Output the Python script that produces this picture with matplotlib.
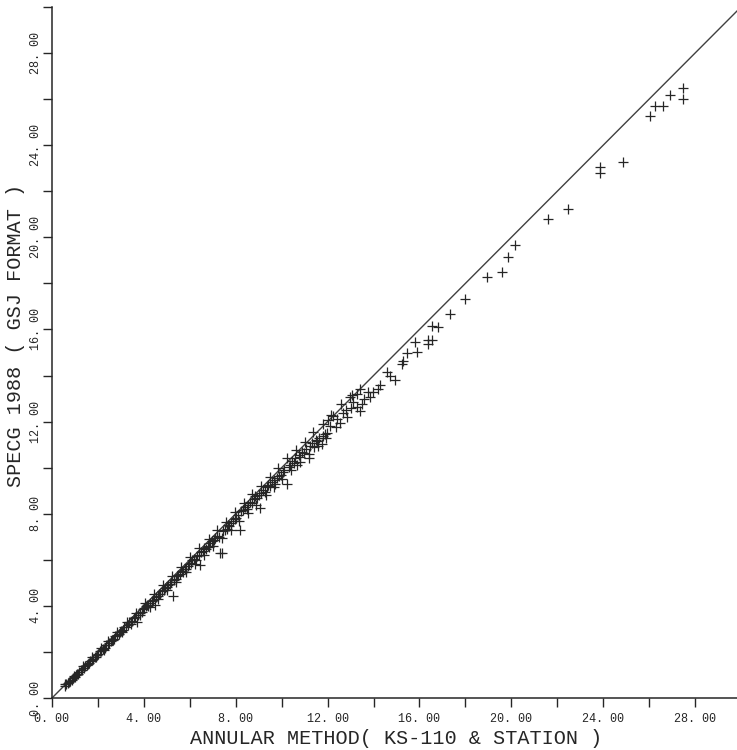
import matplotlib
matplotlib.use("Agg")
import matplotlib.pyplot as plt

# annular method (x) vs SPECG 1988 (y)
annular = [
    0.55, 0.62, 0.70, 0.78, 0.85, 0.90, 0.98, 1.05, 1.10, 1.18, 1.25, 1.30, 1.38, 1.45, 1.52, 1.60, 1.66, 1.72, 1.80, 1.88, 1.95,
    2.02, 2.08, 2.15, 2.22, 2.30, 2.35, 2.42, 2.50, 2.55, 2.62, 2.70, 2.76, 2.82, 2.90, 2.95, 3.02, 3.10, 3.15, 3.22, 3.30,
    3.36, 3.42, 3.50, 3.56, 3.62, 3.69, 3.75, 3.82, 3.90, 3.96,
    4.02, 4.08, 4.15, 4.20, 4.28, 4.35, 4.40, 4.49, 4.52, 4.60, 4.66, 4.72, 4.80, 4.86, 4.92, 5.00, 5.05, 5.12, 5.20, 5.28,
    5.30, 5.38, 5.45, 5.50, 5.58, 5.65, 5.70, 5.78, 5.85, 5.92, 5.98,
    6.05, 6.10, 6.18, 6.25, 6.30, 6.38, 6.45, 6.50, 6.58, 6.62, 6.70, 6.78, 6.85, 6.90, 6.98, 7.05, 7.10, 7.18, 7.25, 7.32,
    7.39, 7.45, 7.52, 7.60, 7.66, 7.72, 7.80, 7.88, 7.95,
    8.02, 8.10, 8.19, 8.25, 8.32, 8.40, 8.48, 8.55, 8.62, 8.70, 8.78, 8.85, 8.92, 9.00, 9.06, 9.12, 9.20, 9.28, 9.35, 9.42,
    9.50, 9.58, 9.65, 9.72, 9.80, 9.88, 9.95,
    10.05, 10.12, 10.22, 10.30, 10.38, 10.45, 10.52, 10.60, 10.68, 10.75, 10.82, 10.90, 10.98, 11.05, 11.17, 11.25, 11.32,
    11.40, 11.48, 11.55, 11.62, 11.75, 11.82, 11.90, 11.98,
    12.00, 12.11, 12.25, 12.40, 12.54, 12.69, 12.80, 12.98, 13.00, 13.12, 13.27, 13.41, 13.41, 13.49, 13.85, 13.99, 14.21,
    14.29, 14.58, 14.72, 14.94, 15.23, 15.30, 15.45, 15.81, 15.88, 16.35, 16.39, 16.54, 16.54, 16.82, 17.33, 17.99, 18.95,
    19.60, 19.86, 20.17, 21.60, 22.47, 23.87, 23.87, 24.87, 26.05, 26.26, 26.60, 26.92, 27.48, 27.48,
    # second pass through the dense band
    0.58, 0.74, 0.95, 1.15, 1.35, 1.55, 1.75, 1.92, 2.12, 2.28, 2.45, 2.66, 2.85, 3.05, 3.25, 3.45, 3.65, 3.85,
    4.05, 4.25, 4.45, 4.62, 4.85, 5.02, 5.22, 5.42, 5.62, 5.82, 6.02, 6.22, 6.42, 6.60, 6.82, 7.00, 7.20, 7.40,
    7.58, 7.78, 7.98, 8.15, 8.35, 8.52, 8.72, 8.90, 9.10, 9.30, 9.48, 9.68, 9.85, 10.02, 10.25, 10.42, 10.62,
    10.80, 11.00, 11.20, 11.38, 11.58, 11.78, 11.95, 12.15, 12.35, 12.60, 12.85, 13.05, 13.30, 13.60, 13.75,
]
specg = [
    0.52, 0.60, 0.64, 0.75, 0.80, 0.88, 0.92, 1.00, 1.06, 1.12, 1.20, 1.22, 1.30, 1.40, 1.45, 1.52, 1.60, 1.64, 1.70, 1.80, 1.86,
    1.92, 2.02, 2.05, 2.12, 2.18, 2.30, 2.32, 2.38, 2.48, 2.50, 2.58, 2.70, 2.72, 2.76, 2.88, 2.90, 2.96, 3.08, 3.10, 3.15,
    3.28, 3.30, 3.35, 3.48, 3.50, 3.32, 3.62, 3.70, 3.72, 3.85,
    3.90, 3.98, 4.05, 4.00, 4.12, 4.22, 4.25, 4.05, 4.38, 4.45, 4.52, 4.50, 4.65, 4.70, 4.78, 4.80, 4.92, 4.95, 5.05, 4.41,
    5.12, 5.18, 5.30, 5.32, 5.38, 5.50, 5.48, 5.60, 5.62, 5.75, 5.80,
    5.85, 5.98, 6.02, 6.00, 6.15, 6.22, 5.79, 6.32, 6.40, 6.50, 6.48, 6.62, 6.55, 6.75, 6.80, 6.85, 6.95, 7.02, 6.98, 6.30,
    6.30, 7.25, 7.30, 7.35, 7.50, 7.45, 7.60, 7.68, 7.75,
    7.82, 7.95, 7.31, 8.10, 8.18, 8.28, 8.20, 8.40, 8.52, 8.48, 8.62, 8.75, 8.70, 8.80, 8.26, 8.92, 9.05, 8.95, 9.15, 9.25,
    9.20, 9.38, 9.45, 9.30, 9.55, 9.62, 9.70,
    9.80, 9.90, 9.27, 10.05, 10.10, 10.30, 10.22, 10.42, 10.10, 10.55, 10.48, 10.70, 10.62, 10.80, 10.44, 10.95, 11.05,
    10.90, 11.20, 11.15, 11.30, 11.01, 11.38, 11.45, 11.50,
    12.05, 11.81, 12.25, 12.10, 11.96, 12.39, 12.50, 13.05, 12.60, 12.83, 13.19, 13.41, 12.46, 12.76, 13.05, 13.27, 13.41,
    13.58, 14.14, 13.99, 13.81, 14.50, 14.64, 14.98, 15.47, 15.01, 15.56, 15.37, 15.56, 16.16, 16.09, 16.67, 17.33, 18.29,
    18.50, 19.16, 19.68, 20.81, 21.25, 23.07, 22.81, 23.25, 25.25, 25.69, 25.69, 26.16, 26.47, 25.99,
    0.60, 0.70, 0.96, 1.05, 1.38, 1.48, 1.78, 1.80, 2.15, 2.10, 2.48, 2.52, 2.88, 2.85, 3.30, 3.20, 3.70, 3.60,
    4.12, 3.95, 4.50, 4.30, 4.90, 4.70, 5.30, 5.05, 5.68, 5.45, 6.10, 5.80, 6.50, 6.20, 6.90, 6.60, 7.30, 6.95,
    7.65, 7.30, 8.08, 7.70, 8.45, 8.05, 8.85, 8.40, 9.22, 8.80, 9.60, 9.15, 9.98, 9.50, 10.40, 9.90, 10.75,
    10.25, 11.12, 10.60, 11.55, 10.95, 11.90, 11.30, 12.30, 11.75, 12.75, 12.20, 13.15, 12.65, 13.00, 13.30,
]
one_to_one = [0, 30]
tick_values = list(range(0, 31, 2))
label_values = list(range(0, 29, 4))

ink = "#262626"
mono = "Liberation Mono"

fig = plt.figure(figsize=(7.37, 7.5), dpi=100)
ax = fig.add_axes([52 / 737, 52 / 750, 689 / 737, 691 / 750])

ax.plot(one_to_one, one_to_one, color="#404040", linewidth=1.0)
ax.plot(annular, specg, linestyle="none", marker="+", markersize=7,
        markeredgewidth=0.9, color=ink)

ax.set_xlim(0, 30)
ax.set_ylim(0, 30)
for side in ("top", "right"):
    ax.spines[side].set_visible(False)
for side in ("left", "bottom"):
    ax.spines[side].set_color(ink)
    ax.spines[side].set_linewidth(1.1)

def tick_text(v):
    return ("%.2f" % v).replace(".", ". ") if v in label_values else ""

ax.set_xticks(tick_values)
ax.set_yticks(tick_values)
ax.set_xticklabels([tick_text(v) for v in tick_values], fontfamily=mono, fontsize=8.5, color=ink)
ax.set_yticklabels([tick_text(v) for v in tick_values], fontfamily=mono, fontsize=8.5, color=ink,
                   rotation=90, va="center")
ax.tick_params(axis="both", direction="out", length=6.5, width=1.0, color=ink)
ax.tick_params(axis="x", pad=4)
ax.tick_params(axis="y", pad=1)

fig.text(396 / 737, 1 - 739 / 750, "ANNULAR METHOD( KS-110 & STATION )", ha="center", va="center",
         fontfamily=mono, fontsize=14.5, color=ink)
fig.text(16 / 737, 1 - 335 / 750, "SPECG 1988 ( GSJ FORMAT )", ha="center", va="center",
         rotation=90, fontfamily=mono, fontsize=14.5, color=ink)

fig.savefig("out.png", dpi=100)
